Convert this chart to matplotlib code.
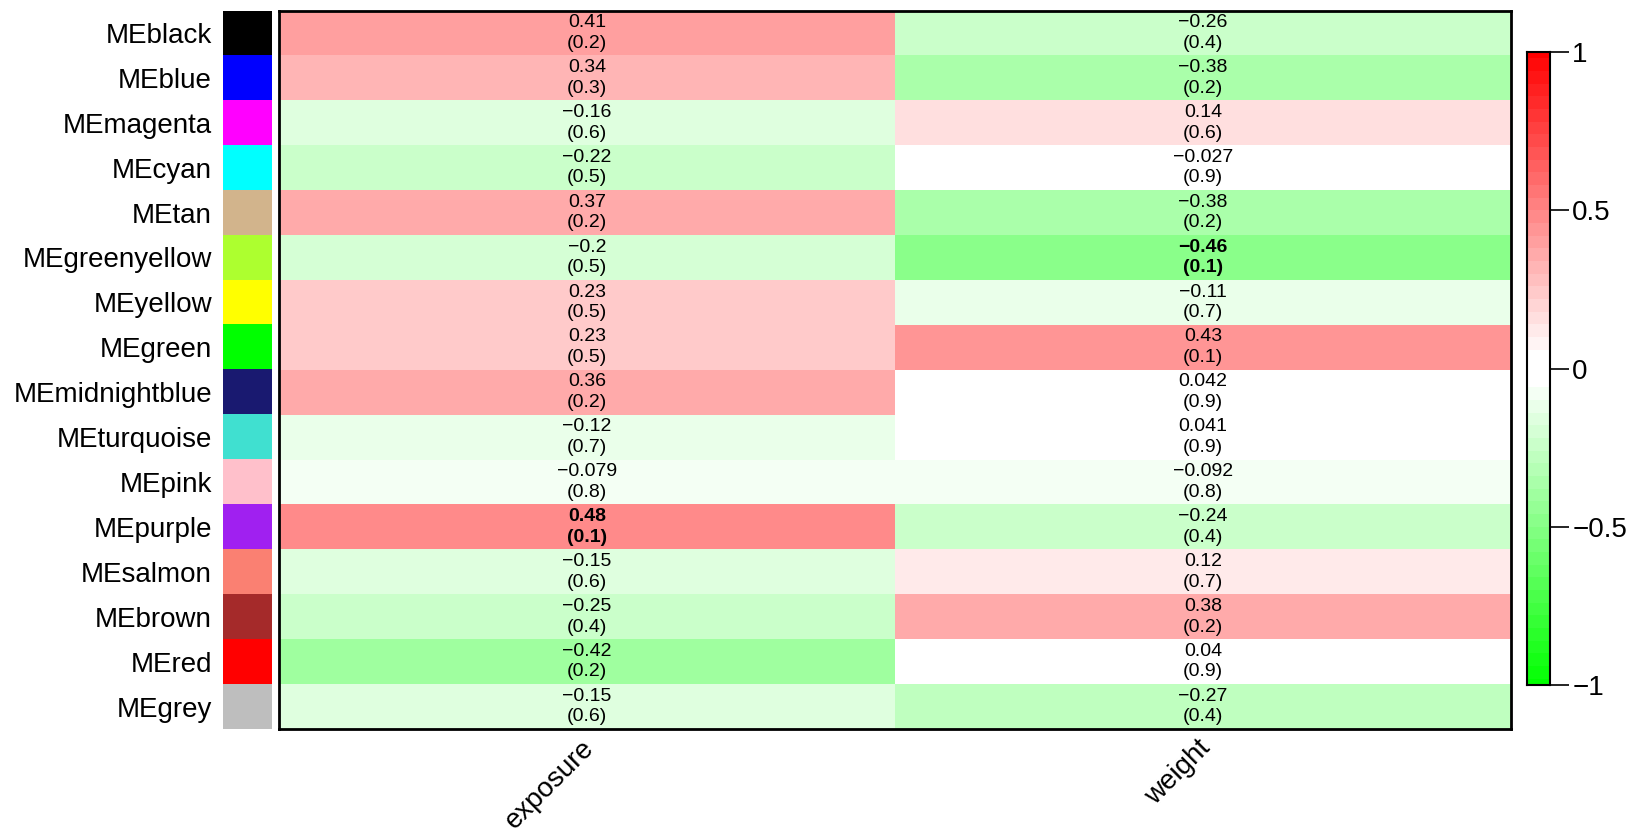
import numpy as np
import matplotlib.pyplot as plt
from matplotlib.colors import ListedColormap, BoundaryNorm, to_rgb

plt.rcParams['font.family'] = ['Liberation Sans', 'DejaVu Sans']

modules = ['MEblack', 'MEblue', 'MEmagenta', 'MEcyan', 'MEtan', 'MEgreenyellow',
           'MEyellow', 'MEgreen', 'MEmidnightblue', 'MEturquoise', 'MEpink',
           'MEpurple', 'MEsalmon', 'MEbrown', 'MEred', 'MEgrey']
swatch = ['black', 'blue', 'magenta', 'cyan', 'tan', 'greenyellow', 'yellow',
          '#00FF00', 'midnightblue', 'turquoise', 'pink', '#A020F0', 'salmon',
          '#A52A2A', 'red', '#BEBEBE']
traits = ['exposure', 'weight']

cor_exposure = [0.41, 0.34, -0.16, -0.22, 0.37, -0.2, 0.23, 0.23, 0.36, -0.12,
                -0.079, 0.48, -0.15, -0.25, -0.42, -0.15]
p_exposure = ['0.2', '0.3', '0.6', '0.5', '0.2', '0.5', '0.5', '0.5', '0.2', '0.7',
              '0.8', '0.1', '0.6', '0.4', '0.2', '0.6']
cor_weight = [-0.26, -0.38, 0.14, -0.027, -0.38, -0.46, -0.11, 0.43, 0.042, 0.041,
              -0.092, -0.24, 0.12, 0.38, 0.04, -0.27]
p_weight = ['0.4', '0.2', '0.6', '0.9', '0.2', '0.1', '0.7', '0.1', '0.9', '0.9',
            '0.8', '0.4', '0.7', '0.2', '0.9', '0.4']
# cells printed in bold
bold_exposure = [False] * 11 + [True] + [False] * 4
bold_weight = [False] * 5 + [True] + [False] * 10

# green - white - red, steps of 0.04 centred on 0 (three white steps in the middle)
ks = np.arange(-25, 26)
cols = []
for k in ks:
    a = max(0, abs(k) - 1) / 24.0
    if k < 0:
        cols.append((1 - a, 1.0, 1 - a))
    else:
        cols.append((1.0, 1 - a, 1 - a))
cmap = ListedColormap(cols)
edges = np.linspace(-1.02, 1.02, len(ks) + 1)
norm = BoundaryNorm(edges, len(ks))

W, H = 1631, 833
fig = plt.figure(figsize=(W / 100, H / 100), dpi=100)

ax = fig.add_axes([279 / W, 1 - 729 / H, (1511 - 279) / W, (729 - 10.5) / H])
data = np.column_stack([cor_exposure, cor_weight])
ax.pcolormesh(np.arange(3), np.arange(17), data, cmap=cmap, norm=norm)
ax.set_xlim(0, 2)
ax.set_ylim(16, 0)
ax.set_xticks([])
ax.set_yticks([])
for s in ax.spines.values():
    s.set_linewidth(2)

cors = [cor_exposure, cor_weight]
ps = [p_exposure, p_weight]
bolds = [bold_exposure, bold_weight]
for j in range(2):
    for i in range(16):
        fw = 'bold' if bolds[j][i] else 'normal'
        lab = ('%g\n(%s)' % (cors[j][i], ps[j][i])).replace('-', '\u2212')
        ax.text(j + 0.5, i + 0.5, lab, ha='center', va='center', fontsize=14,
                fontweight=fw, linespacing=1.28)
    ax.text(j + 0.49, 16.14, traits[j], rotation=45, ha='right', va='top',
            rotation_mode='anchor', fontsize=20, clip_on=False)

# module colour swatches
axs = fig.add_axes([223 / W, 1 - 729 / H, (272 - 223) / W, (729 - 10.5) / H])
rgb = np.array([to_rgb(c) for c in swatch]).reshape(16, 1, 3)
axs.imshow(rgb, aspect='auto', extent=(0, 1, 16, 0), interpolation='nearest')
axs.set_xticks([])
axs.set_yticks(np.arange(16) + 0.5)
axs.set_yticklabels(modules, fontsize=20)
axs.tick_params(axis='y', length=0, pad=8)
for s in axs.spines.values():
    s.set_visible(False)

# colour bar
axc = fig.add_axes([1527 / W, 1 - 685 / H, (1550 - 1527) / W, (685 - 52) / H])
axc.pcolormesh([0, 1], edges, (ks * 0.04).reshape(-1, 1), cmap=cmap, norm=norm)
axc.set_xticks([])
axc.yaxis.tick_right()
axc.set_yticks([-1, -0.5, 0, 0.5, 1])
axc.set_yticklabels(['\u22121', '\u22120.5', '0', '0.5', '1'], fontsize=20)
axc.tick_params(axis='y', length=14, width=1.2, pad=2)
axc.set_ylim(-1, 1)
for s in axc.spines.values():
    s.set_linewidth(1.5)

fig.savefig('out.png', dpi=100)
